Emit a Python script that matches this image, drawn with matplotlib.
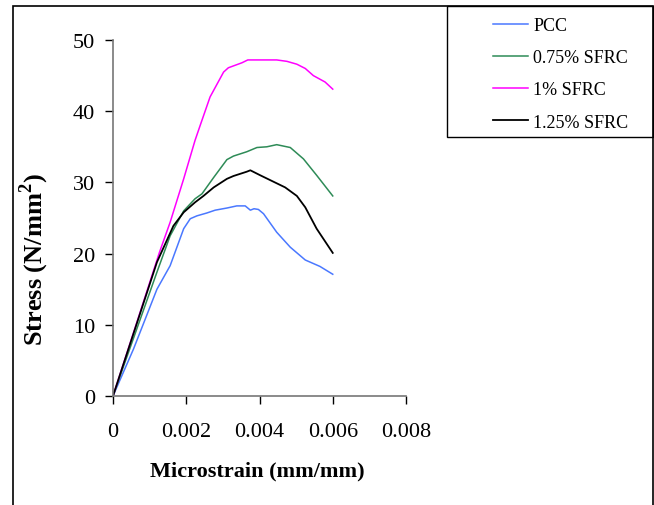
import matplotlib.pyplot as plt
from matplotlib.patches import Rectangle

plt.rcParams["font.family"] = ["Liberation Serif", "DejaVu Serif"]
plt.rcParams["mathtext.fontset"] = "custom"
plt.rcParams["mathtext.bf"] = "Liberation Serif:bold"
plt.rcParams["mathtext.rm"] = "Liberation Serif"

# -------------------------
# Data
# -------------------------

pcc_x = [0, 0.00056, 0.0012, 0.00156, 0.00193, 0.00211, 0.00229, 0.00256, 0.00279,
         0.00311, 0.00338, 0.00361, 0.00375, 0.00385, 0.00397, 0.00411, 0.00447,
         0.00484, 0.00525, 0.00565, 0.006]
pcc_y = [0, 6.6, 15.0, 18.3, 23.5, 24.9, 25.3, 25.7, 26.1,
         26.4, 26.7, 26.7, 26.1, 26.3, 26.2, 25.6, 23.0,
         20.9, 19.1, 18.2, 17.1]

sfrc075_x = [0, 0.0012, 0.00156, 0.00193, 0.00224, 0.00243, 0.00275, 0.00311, 0.00329,
             0.00365, 0.00393, 0.0042, 0.00447, 0.00484, 0.0052, 0.00556, 0.006]
sfrc075_y = [0, 17.4, 22.5, 26.0, 27.7, 28.4, 30.7, 33.2, 33.7,
             34.3, 34.9, 35.0, 35.3, 34.9, 33.3, 31.0, 28.1]

sfrc1_x = [0, 0.00127, 0.00156, 0.00193, 0.00224, 0.00238, 0.00265, 0.00302, 0.00315,
           0.00352, 0.00368, 0.00447, 0.00475, 0.00502, 0.00525, 0.00547, 0.00579, 0.006]
sfrc1_y = [0, 20.2, 24.4, 30.5, 35.9, 38.0, 42.0, 45.5, 46.1,
           46.8, 47.2, 47.2, 47.0, 46.6, 46.0, 45.0, 44.1, 43.1]

sfrc125_x = [0, 0.0012, 0.00165, 0.00193, 0.00224, 0.00247, 0.00275, 0.00311, 0.00329,
             0.00365, 0.00375, 0.00402, 0.00438, 0.0047, 0.00502, 0.00525, 0.00556, 0.006]
sfrc125_y = [0, 18.8, 23.9, 25.8, 27.2, 28.1, 29.3, 30.5, 30.9,
             31.5, 31.7, 31.0, 30.1, 29.3, 28.1, 26.5, 23.5, 20.1]

x_ticks = [0, 0.002, 0.004, 0.006, 0.008]
x_tick_labels = ["0", "0.002", "0.004", "0.006", "0.008"]
y_ticks = [0, 10, 20, 30, 40, 50]

# -------------------------
# Plot
# -------------------------

W, H = 654, 506
fig = plt.figure(figsize=(W / 100, H / 100), dpi=100)
ax = fig.add_axes([113 / W, 1 - 397 / H, 293 / W, 356 / H])

ax.plot(pcc_x, pcc_y, color="#4a78ff", linewidth=1.1, label="PCC")
ax.plot(sfrc075_x, sfrc075_y, color="#2e8b57", linewidth=1.1, label="0.75% SFRC")
ax.plot(sfrc1_x, sfrc1_y, color="#ff00ff", linewidth=1.1, label="1% SFRC")
ax.plot(sfrc125_x, sfrc125_y, color="black", linewidth=1.3, label="1.25% SFRC")

ax.set_xlim(0, 0.008)
ax.set_ylim(0, 50)
ax.set_xticks(x_ticks)
ax.set_xticklabels(x_tick_labels)
ax.set_yticks(y_ticks)

for side in ["top", "right"]:
    ax.spines[side].set_visible(False)
for side in ["left", "bottom"]:
    ax.spines[side].set_color("#777777")
    ax.spines[side].set_linewidth(1.2)

ax.tick_params(direction="out", length=6, width=1, color="black", labelsize=16)
ax.tick_params(axis="x", pad=13)
ax.tick_params(axis="y", pad=7)

ax.set_xlabel("Microstrain (mm/mm)", fontsize=16, fontweight="bold")
ax.xaxis.set_label_coords(0.493, -0.18)
ax.set_ylabel("Stress (N/mm$^\\mathbf{2}$)", fontsize=19, fontweight="bold")
ax.yaxis.set_label_coords(-0.21, 0.385)

# outer chart border and legend box
fig.patches.append(Rectangle((13 / W, -0.05), 640 / W, 1.05 - 7 / H,
                             transform=fig.transFigure, fill=False,
                             edgecolor="black", linewidth=1.2))
fig.patches.append(Rectangle((447 / W, 1 - 138 / H), 206 / W, 131 / H,
                             transform=fig.transFigure, fill=False,
                             edgecolor="black", linewidth=1.0))

leg = ax.legend(
    loc="upper left",
    bbox_to_anchor=(493 / W, 1 - 18 / H),
    bbox_transform=fig.transFigure,
    fontsize=13,
    frameon=False,
    handlelength=1.95,
    handletextpad=0.28,
    labelspacing=0.84,
    borderpad=0,
    borderaxespad=0,
)

fig.savefig("out.png", dpi=100)
plt.close(fig)
